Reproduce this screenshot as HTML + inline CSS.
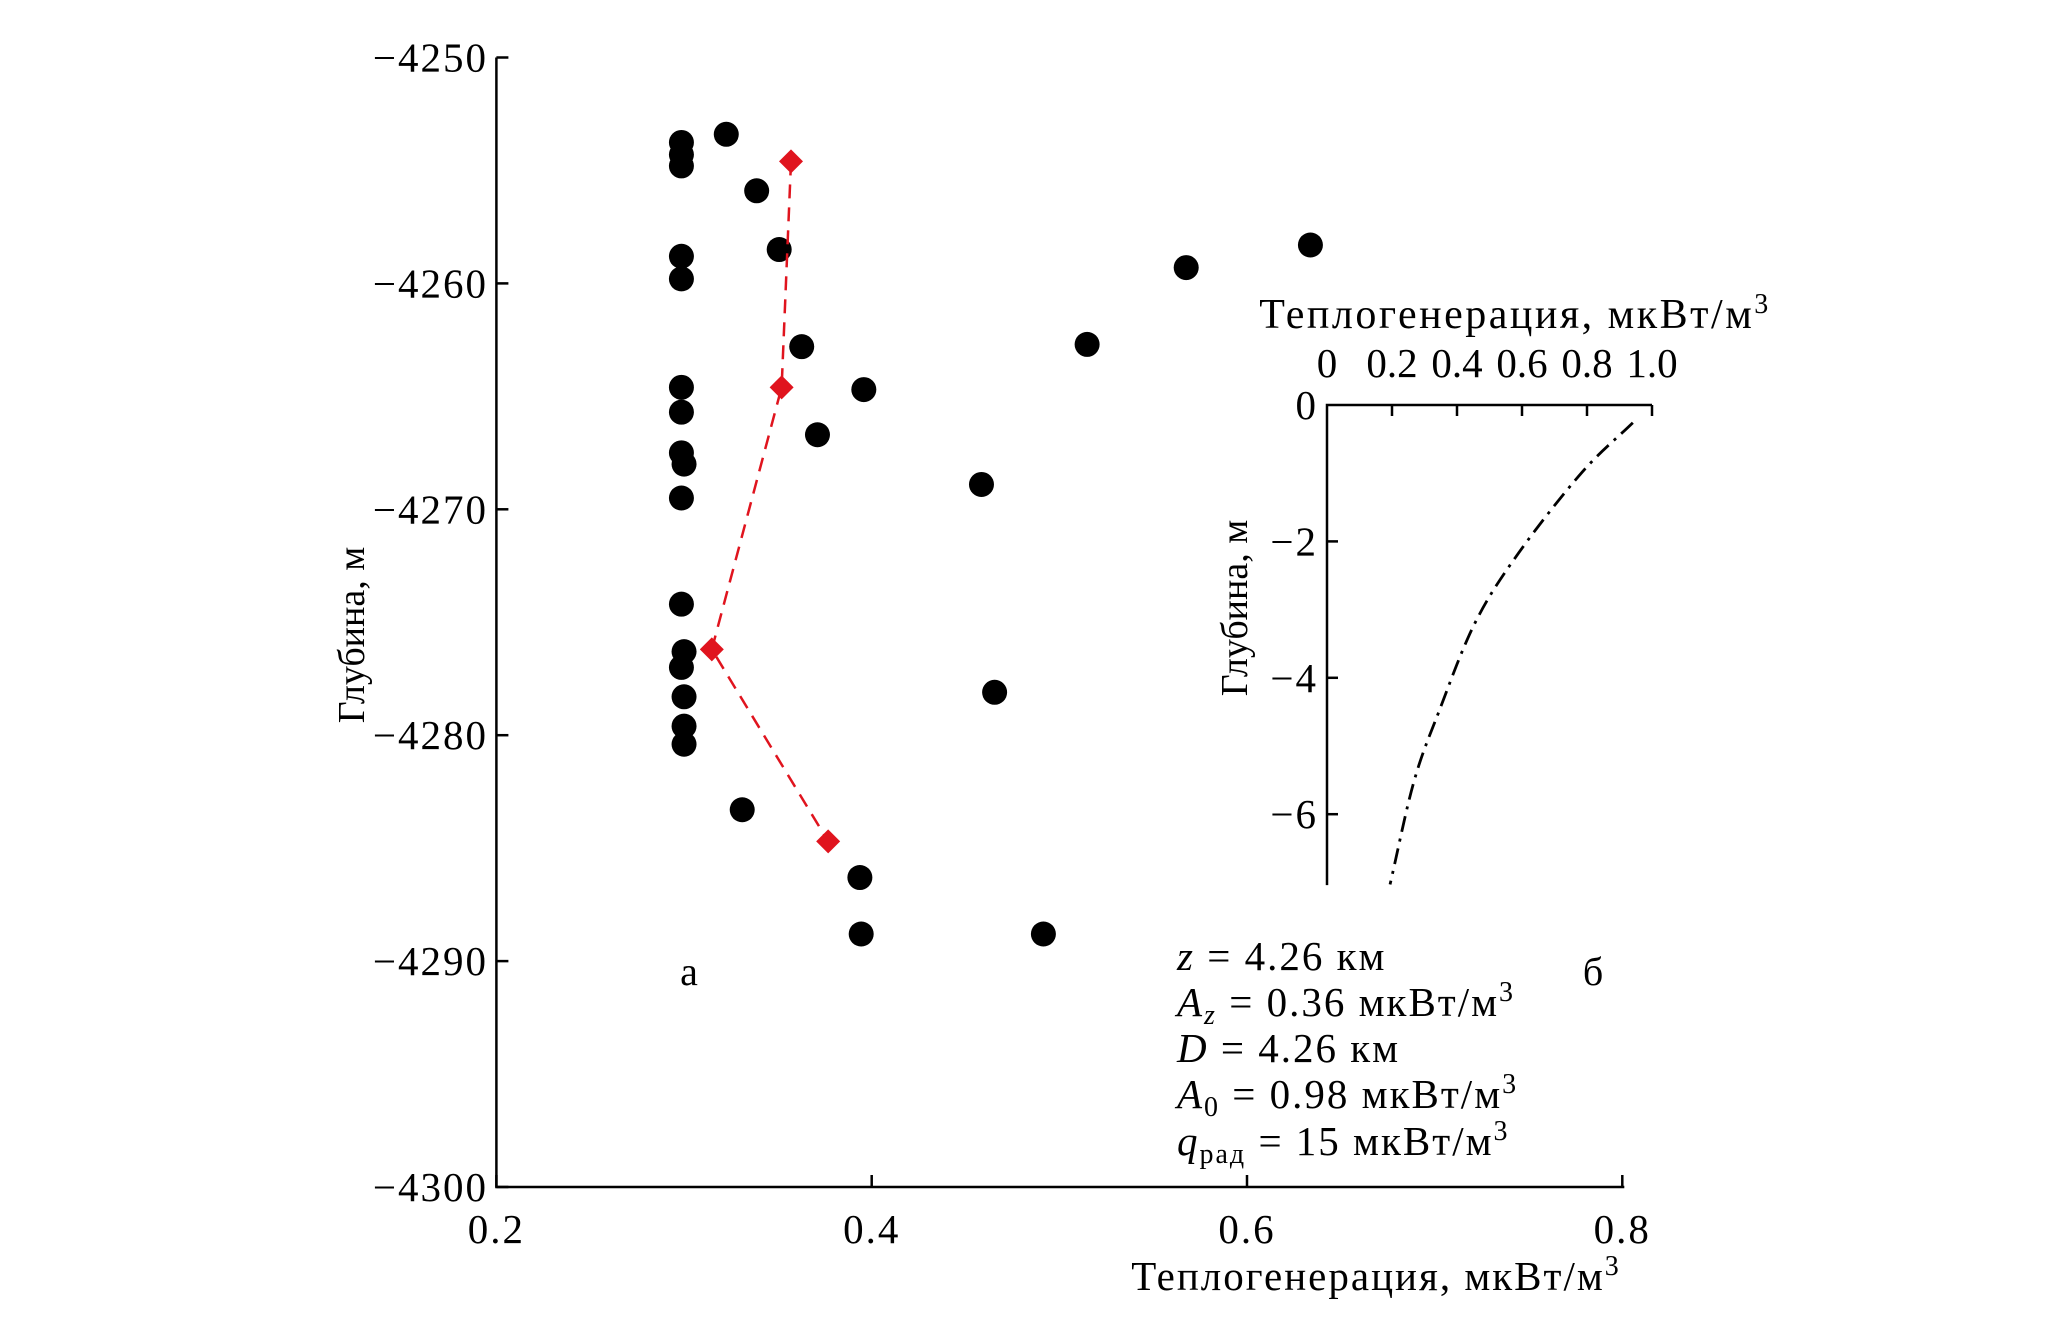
<!DOCTYPE html>
<html><head><meta charset="utf-8"><style>
html,body{margin:0;padding:0;background:#fff}
svg{display:block}
text{font-family:"Liberation Serif",serif;fill:#000}
</style></head><body>
<svg id="chart" width="2067" height="1335" viewBox="0 0 2067 1335" xmlns="http://www.w3.org/2000/svg">
<g id="main"></g>
<g id="inset"></g>
<text x="689" y="985" font-size="40" text-anchor="middle">а</text>
<text x="1593" y="985" font-size="40" text-anchor="middle">б</text>
<g font-size="41" letter-spacing="2">
<text x="1177" y="970"><tspan font-style="italic">z</tspan> = 4.26 км</text>
<text x="1177" y="1016"><tspan font-style="italic">A</tspan><tspan font-style="italic" font-size="28" dy="8">z</tspan><tspan dy="-8"> = 0.36 мкВт/м</tspan><tspan font-size="28" dy="-15">3</tspan></text>
<text x="1177" y="1062"><tspan font-style="italic">D</tspan> = 4.26 км</text>
<text x="1177" y="1108"><tspan font-style="italic">A</tspan><tspan font-size="28" dy="8">0</tspan><tspan dy="-8"> = 0.98 мкВт/м</tspan><tspan font-size="28" dy="-15">3</tspan></text>
<text x="1177" y="1155"><tspan font-style="italic">q</tspan><tspan font-size="28" dy="8">рад</tspan><tspan dy="-8"> = 15 мкВт/м</tspan><tspan font-size="28" dy="-15">3</tspan></text>
</g>
</svg>
<script>
const dotX=[0.2986,0.2986,0.2986,0.3225,0.3387,0.3507,0.2986,0.2986,0.3627,0.2986,0.2986,0.3958,0.3711,0.2986,0.300,0.2986,0.4585,0.2986,0.300,0.2986,0.300,0.300,0.300,0.4655,0.331,0.3937,0.3944,0.4915,0.5148,0.5676,0.6338];
const dotY=[-4253.76,-4254.3,-4254.8,-4253.4,-4255.9,-4258.5,-4258.8,-4259.8,-4262.8,-4264.6,-4265.7,-4264.7,-4266.7,-4267.5,-4268.0,-4269.5,-4268.9,-4274.2,-4276.3,-4277.0,-4278.3,-4279.6,-4280.4,-4278.1,-4283.3,-4286.3,-4288.8,-4288.8,-4262.7,-4259.3,-4258.3];
const redX=[0.357,0.352,0.3148,0.3768];
const redY=[-4254.6,-4264.6,-4276.2,-4284.7];
const xTicks=[0.2,0.4,0.6,0.8];
const yTicks=[-4250,-4260,-4270,-4280,-4290,-4300];
const curveX=[0.941,0.786,0.591,0.456,0.344,0.267,0.194];
const curveY=[-0.26,-0.98,-2.16,-3.19,-4.5,-5.53,-7.03];
const insetXTicks=[0,0.2,0.4,0.6,0.8,1.0];
const insetYTicks=[0,-2,-4,-6];

const NS='http://www.w3.org/2000/svg';
function mk(parent,tag,attrs,txt){const e=document.createElementNS(NS,tag);for(const k in attrs)e.setAttribute(k,attrs[k]);if(txt!==undefined)e.textContent=txt;parent.appendChild(e);return e;}
const X=v=>496.4+(v-0.2)/0.2*375.3;
const Y=v=>57.5+(-4250-v)/50*1129.5;
const main=document.getElementById('main');
let e;
e=mk(main,'path',{d:`M${X(0.2)},${Y(-4250)}V${Y(-4300)}H${X(0.8)+2}`,stroke:'#000','stroke-width':2.5,fill:'none'});


xTicks.forEach(t=>{
 e=mk(main,'line',{x1:X(t),x2:X(t),y1:Y(-4300),y2:Y(-4300)-12,stroke:'#000','stroke-width':2.5});
 
 
 e=mk(main,'text',{x:X(t),y:1243,'font-size':41,'letter-spacing':2,'text-anchor':'middle'},t.toFixed(1));
 
 
});
yTicks.forEach(t=>{
 e=mk(main,'line',{x1:X(0.2),x2:X(0.2)+12,y1:Y(t),y2:Y(t),stroke:'#000','stroke-width':2.5});
 
 
 e=mk(main,'text',{x:488,y:Y(t)+14,'font-size':41,'letter-spacing':2,'text-anchor':'end'},'\u2212'+Math.abs(t));
 
 
});
e=mk(main,'text',{x:1376,y:1290,'font-size':41,'letter-spacing':2,'text-anchor':'middle'});
e.innerHTML='Теплогенерация, мкВт/м<tspan font-size="28" dy="-15">3</tspan>';


e=mk(main,'text',{x:0,y:0,'font-size':38,'text-anchor':'middle',transform:'translate(364,635) rotate(-90)'},'Глубина, м');


dotX.forEach((v,i)=>{
 e=mk(main,'circle',{cx:X(v),cy:Y(dotY[i]),r:12.5,fill:'#000'});
 
 
});
e=mk(main,'polyline',{points:redX.map((v,i)=>X(v)+','+Y(redY[i])).join(' '),fill:'none',stroke:'#e0141e','stroke-width':2.5,'stroke-dasharray':'14,9'});


redX.forEach((v,i)=>{
 const cx=X(v),cy=Y(redY[i]);
 e=mk(main,'polygon',{points:`${cx},${cy-12} ${cx+12},${cy} ${cx},${cy+12} ${cx-12},${cy}`,fill:'#e0141e'});
 
 
});

const IX=v=>1327+v*325;
const IY=v=>405-v*68.2;
const inset=document.getElementById('inset');
e=mk(inset,'path',{d:`M${IX(1.0)},${IY(0)}H${IX(0)}V${IY(-7.04)}`,stroke:'#000','stroke-width':2.5,fill:'none'});


insetXTicks.forEach(t=>{
 if(t>0){e=mk(inset,'line',{x1:IX(t),x2:IX(t),y1:IY(0),y2:IY(0)+11,stroke:'#000','stroke-width':2.5});
 
 }
 e=mk(inset,'text',{x:IX(t),y:377,'font-size':41,'text-anchor':'middle'},t===0?'0':t.toFixed(1));
 
 
});
insetYTicks.forEach(t=>{
 if(t<0){e=mk(inset,'line',{x1:IX(0),x2:IX(0)+11,y1:IY(t),y2:IY(t),stroke:'#000','stroke-width':2.5});
 
 }
 e=mk(inset,'text',{x:1318,y:IY(t)+14,'font-size':41,'letter-spacing':2,'text-anchor':'end'},t===0?'0':'\u2212'+Math.abs(t));
 
 
});
e=mk(inset,'text',{x:1515,y:328,'font-size':42,'letter-spacing':2.5,'text-anchor':'middle'});
e.innerHTML='Теплогенерация, мкВт/м<tspan font-size="28" dy="-15">3</tspan>';


e=mk(inset,'text',{x:0,y:0,'font-size':38,'text-anchor':'middle',transform:'translate(1247,608) rotate(-90)'},'Глубина, м');


let d='';
const px=curveX.map(IX),py=curveY.map(IY);
d='M'+px[0]+','+py[0];
for(let i=1;i<px.length;i++){
 const x0=px[i-1],y0=py[i-1],x1=px[i],y1=py[i];
 const xm=i>1?(px[i]-px[i-2])/2:(x1-x0),ym=i>1?(py[i]-py[i-2])/2:(y1-y0);
 const xn=i<px.length-1?(px[i+1]-px[i-1])/2:(x1-x0),yn=i<px.length-1?(py[i+1]-py[i-1])/2:(y1-y0);
 d+=` C${x0+xm/3},${y0+ym/3} ${x1-xn/3},${y1-yn/3} ${x1},${y1}`;
}
e=mk(inset,'path',{d:d,fill:'none',stroke:'#000','stroke-width':2.8,'stroke-dasharray':'16,7,3,7'});


</script>
</body></html>
